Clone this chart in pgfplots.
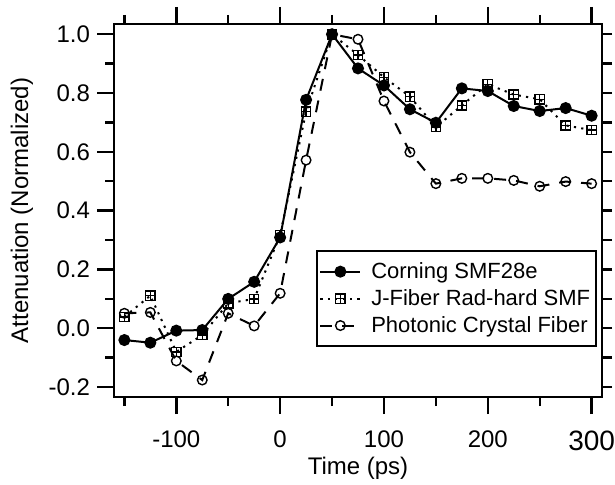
\documentclass[border=0pt]{standalone}
\usepackage{fontspec}
\setmainfont{Liberation Sans}
\usepackage{pgfplots}
\pgfplotsset{compat=1.18}

\pgfdeclareplotmark{boxplus}{%
  \pgfpathrectangle{\pgfpoint{-\pgfplotmarksize}{-\pgfplotmarksize}}{\pgfpoint{2\pgfplotmarksize}{2\pgfplotmarksize}}%
  \pgfpathmoveto{\pgfpoint{-\pgfplotmarksize}{0pt}}\pgfpathlineto{\pgfpoint{\pgfplotmarksize}{0pt}}%
  \pgfpathmoveto{\pgfpoint{0pt}{-\pgfplotmarksize}}\pgfpathlineto{\pgfpoint{0pt}{\pgfplotmarksize}}%
  \pgfusepathqstroke}

\begin{document}
\begin{tikzpicture}
\begin{axis}[
  name=main,
  scale only axis, width=244pt, height=186.5pt,
  xmin=-160, xmax=310, ymin=-0.2337, ymax=1.035,
  axis line style={line width=1.25pt},
  tick align=outside,
  major tick length=8.5pt, minor tick length=4.5pt,
  tick style={black, line width=1.2pt},
  xtick={-100,0,100,200,300},
  xticklabels={-100,0,100,200,{\fontsize{14}{16}\selectfont 300}},
  minor xtick={-150,-50,50,150,250},
  ytick={-0.2,0,0.2,0.4,0.6,0.8,1.0},
  yticklabels={-0.2,0.0,0.2,0.4,0.6,0.8,1.0},
  minor ytick={-0.1,0.1,0.3,0.5,0.7,0.9},
  ytick pos=left,
  xtick pos=both, xticklabel pos=lower,
  tick label style={font=\fontsize{12}{14}\selectfont},
  xticklabel style={yshift=-5pt},
  xlabel={Time (ps)}, ylabel={Attenuation (Normalized)},
  label style={font=\fontsize{12}{14}\selectfont},
  xlabel style={at={(rel axis cs:0.5,-0.209)}, anchor=base},
  ylabel style={at={(rel axis cs:-0.1885,0.5)}, anchor=center},
  legend style={at={(rel axis cs:0.99,0.134)}, anchor=south east, draw=black, line width=1pt, fill=white,
    font=\fontsize{11}{13}\selectfont, inner xsep=1pt, inner ysep=3.5pt, row sep=0pt,
    /tikz/every odd column/.append style={column sep=3pt}},
  legend cell align=left,
  legend image code/.code={\draw[mark repeat=2,mark phase=2] plot coordinates {(0cm,0cm) (0.35cm,0cm) (0.7cm,0cm)};},
  clip=false,
]
\addplot[black, line width=1pt, mark=*, mark size=2.5pt, mark options={solid, fill=black}] coordinates {
(-150,-0.040) (-125,-0.049) (-100,-0.008) (-75,-0.006) (-50,0.100) (-25,0.158) (0,0.309) (25,0.777) (50,1.000) (75,0.884) (100,0.826) (125,0.745) (150,0.699) (175,0.816) (200,0.807) (225,0.756) (250,0.739) (275,0.749) (300,0.723)};
\addlegendentry{Corning SMF28e}
\addplot[black, line width=1pt, dash pattern=on 1.1pt off 2.6pt, mark=boxplus, mark size=2.3pt, mark options={solid, line width=0.7pt}] coordinates {
(-150,0.039) (-125,0.111) (-100,-0.080) (-75,-0.023) (-50,0.085) (-25,0.100) (0,0.317) (25,0.737) (50,1.000) (75,0.930) (100,0.854) (125,0.788) (150,0.684) (175,0.758) (200,0.830) (225,0.795) (250,0.779) (275,0.690) (300,0.674)};
\addlegendentry{J-Fiber Rad-hard SMF}
\addplot[black, line width=1pt, dash pattern=on 6pt off 5pt, mark=o, mark size=2.4pt, mark options={solid, line width=0.7pt}] coordinates {
(-150,0.051) (-125,0.054) (-100,-0.111) (-75,-0.176) (-50,0.051) (-25,0.008) (0,0.119) (25,0.572) (50,1.000) (75,0.983) (100,0.773) (125,0.599) (150,0.492) (175,0.510) (200,0.510) (225,0.503) (250,0.483) (275,0.499) (300,0.492)};
\addlegendentry{Photonic Crystal Fiber}
\coordinate (bbsw) at (rel axis cs:0,0);
\coordinate (bbne) at (rel axis cs:1,1);
\end{axis}
\begin{axis}[
  scale only axis, width=244pt, height=186.5pt,
  xmin=-160, xmax=310, ymin=-0.2337, ymax=1.035,
  hide x axis, axis y line*=right,
  axis line style={line width=1.25pt},
  ytick={-0.2,-0.1,0,0.1,0.2,0.3,0.4,0.5,0.6,0.7,0.8,0.9,1.0},
  yticklabels={},
  tick align=outside, major tick length=5pt,
  tick style={black, line width=1.2pt},
]
\end{axis}
\pgfresetboundingbox
\path ([shift={(-57pt,-43.5pt)}]bbsw) rectangle ([shift={(6.5pt,12pt)}]bbne);
\end{tikzpicture}
\end{document}
